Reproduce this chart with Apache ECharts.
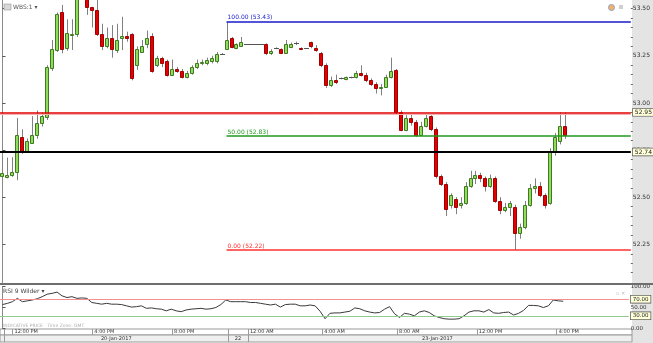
<!DOCTYPE html>
<html><head><meta charset="utf-8">
<script src="https://cdn.jsdelivr.net/npm/echarts@6/dist/echarts.min.js"></script>
<style>html,body{margin:0;padding:0;background:#fff}#c{width:653px;height:343px}</style>
</head><body><div id="c"></div>
<script>
// ---- data (15-minute candles, index 0..113) ----
const opens = [52.615,52.608,52.620,52.635,52.820,52.745,52.790,52.830,52.893,52.925,
53.185,53.280,53.485,53.290,53.366,53.366,53.570,53.560,53.507,53.493,
53.366,53.302,53.343,53.281,53.343,53.355,53.366,53.200,53.272,53.310,
53.355,53.200,53.240,53.220,53.150,53.180,53.170,53.140,53.160,53.190,
53.210,53.210,53.220,53.220,53.260,53.284,53.343,53.290,53.304,53.313,
53.313,53.313,53.313,53.310,53.263,53.290,53.285,53.263,53.295,53.316,
53.293,53.290,53.322,53.293,53.263,53.200,53.095,53.120,53.130,53.125,
53.135,53.135,53.160,53.150,53.120,53.100,53.080,53.085,53.140,53.175,
52.950,52.857,52.920,52.900,52.830,52.880,52.930,52.860,52.610,52.570,
52.460,52.490,52.460,52.470,52.560,52.600,52.620,52.600,52.560,52.600,
52.480,52.430,52.450,52.450,52.310,52.340,52.460,52.550,52.560,52.510,
52.470,52.740,52.800,52.880];
const closes = [52.630,52.620,52.633,52.830,52.745,52.800,52.830,52.893,52.930,53.190,
53.285,53.472,53.285,53.370,53.367,53.560,53.600,53.507,53.493,53.366,
53.302,53.343,53.285,53.334,53.355,53.343,53.130,53.285,53.302,53.343,
53.170,53.240,53.210,53.150,53.180,53.170,53.140,53.160,53.190,53.210,
53.215,53.230,53.240,53.260,53.260,53.334,53.295,53.310,53.322,53.313,
53.313,53.313,53.313,53.263,53.275,53.290,53.263,53.310,53.313,53.316,
53.285,53.290,53.302,53.281,53.200,53.095,53.120,53.110,53.130,53.135,
53.135,53.160,53.150,53.120,53.100,53.080,53.085,53.140,53.170,52.950,
52.857,52.920,52.900,52.830,52.880,52.920,52.860,52.610,52.570,52.440,
52.510,52.450,52.470,52.560,52.600,52.620,52.600,52.560,52.600,52.480,
52.430,52.450,52.470,52.310,52.340,52.460,52.550,52.560,52.510,52.460,
52.740,52.820,52.880,52.830];
const lows = [52.605,52.600,52.608,52.590,52.730,52.738,52.788,52.810,52.875,52.910,
53.170,53.270,53.263,53.277,53.281,53.350,53.550,53.467,53.400,53.355,
53.280,53.290,53.240,53.265,53.280,53.325,53.120,53.175,53.265,53.290,
53.160,53.190,53.190,53.140,53.145,53.160,53.130,53.130,53.150,53.180,
53.200,53.200,53.210,53.210,53.255,53.280,53.290,53.285,53.300,53.313,
53.313,53.313,53.313,53.254,53.254,53.285,53.260,53.260,53.290,53.307,
53.280,53.290,53.290,53.272,53.190,53.080,53.085,53.100,53.125,53.120,
53.130,53.130,53.140,53.110,53.090,53.050,53.040,53.080,53.130,52.940,
52.850,52.850,52.880,52.820,52.825,52.870,52.850,52.600,52.560,52.400,
52.440,52.410,52.440,52.460,52.550,52.570,52.580,52.530,52.550,52.470,
52.410,52.420,52.400,52.220,52.280,52.330,52.450,52.520,52.500,52.440,
52.460,52.720,52.780,52.810];
const highs = [52.715,52.710,52.712,52.920,52.860,52.812,52.930,52.960,52.950,53.200,
53.334,53.480,53.520,53.444,53.444,53.600,53.620,53.580,53.510,53.546,
53.420,53.400,53.413,53.420,53.457,53.378,53.370,53.300,53.334,53.384,
53.370,53.250,53.245,53.230,53.230,53.190,53.180,53.170,53.200,53.230,
53.230,53.240,53.250,53.270,53.265,53.430,53.350,53.316,53.350,53.313,
53.313,53.313,53.313,53.316,53.285,53.295,53.290,53.334,53.320,53.325,
53.295,53.290,53.325,53.307,53.270,53.210,53.140,53.150,53.135,53.140,
53.140,53.170,53.200,53.160,53.130,53.110,53.100,53.150,53.240,53.180,
52.960,52.935,52.940,52.910,52.900,52.940,52.935,52.870,52.620,52.580,
52.520,52.500,52.500,52.580,52.640,52.640,52.630,52.610,52.620,52.610,
52.500,52.470,52.480,52.460,52.360,52.480,52.570,52.600,52.580,52.520,
52.760,52.840,52.950,52.950];
const rsi = [57,60,64,72,64,66,68,71,76,82,84,87,78,74,76,72,73,72,62,60,
58,60,58,58,57,54,51,52,54,48,49,47,46,42,46,42,40,44,46,47,
48,46,47,50,57,68,64,64,64,64,62,62,60,58,56,58,51,57,58,58,
54,54,56,54,41,23,36,37,37,39,41,49,47,42,39,37,38,46,52,35,
26,36,34,30,39,42,38,30,26,23,22,22,23,30,39,42,42,39,45,37,
36,38,39,32,36,43,55,55,54,50,54,68,66,65];

const priceTicks = [52.25, 52.50, 52.75, 53.00, 53.25, 53.50];
const priceMinorTicks = [52.10,52.15,52.20,52.30,52.35,52.40,52.45,52.55,52.60,52.65,52.70,
  52.80,52.85,52.90,52.95,53.05,53.10,53.15,53.20,53.30,53.35,53.40,53.45,53.50];
const rsiTicks = [0, 50, 100];

const fibStartIndex = 45;
const fibLevels = [53.43, 52.825, 52.22];
const fibLabels = ['100.00 (53.43)', '50.00 (52.83)', '0.00 (52.22)'];
const fibColors = ['#1a1acc', '#1f9a1f', '#ff3030'];
const hLevels = [52.95, 52.74];
const hLabels = ['52.95', '52.74'];
const hColors = ['#e00000', '#000000'];

const timeTickPos = [2, 18, 34, 49.2, 64.1, 79.1, 95.1, 111.1];
const timeTickLabels = ['12:00 PM','4:00 PM','8:00 PM','12:00 AM','4:00 AM','8:00 AM','12:00 PM','4:00 PM'];
const timeSeparators = [0.4, 2, 18, 34, 45.2, 49.2, 64.1, 79.1, 95.1, 111.1];
const datePos = [22.8, 47.2, 87.2];
const dateLabels = ['20-Jan-2017', '22', '23-Jan-2017'];
const dateSeparators = [0.4, 45.2, 49.2];

const X_MIN = -0.5, X_MAX = 126.2;
const FONT = 'DejaVu Sans';

const candleData = opens.map((o, i) => [i, o, closes[i], lows[i], highs[i]]);

function renderCandle(params, api) {
  const i = api.value(0), o = api.value(1), c = api.value(2), l = api.value(3), h = api.value(4);
  const pO = api.coord([i, o]), pC = api.coord([i, c]), pL = api.coord([i, l]), pH = api.coord([i, h]);
  const col = Math.round(pO[0]);
  const wx = col + 0.5;
  const children = [];
  if (h !== l) children.push({type: 'line', shape: {x1: wx, y1: pH[1], x2: wx, y2: pL[1]},
    style: {stroke: '#808080', lineWidth: 1}});
  if (Math.abs(c - o) < 1e-9) {
    const yy = Math.round(pO[1]) + 0.5;
    children.push({type: 'line', shape: {x1: col - 2, y1: yy, x2: col + 3, y2: yy},
      style: {stroke: '#555', lineWidth: 1}});
  } else {
    const up = c > o;
    const top = Math.round(Math.min(pO[1], pC[1])) + 0.5;
    const bot = Math.round(Math.max(pO[1], pC[1])) + 0.5;
    children.push({type: 'rect', shape: {x: col - 1.5, y: top, width: 3, height: Math.max(1, bot - top)},
      style: {fill: up ? '#8fdc5a' : '#e20000', stroke: up ? '#3f7a22' : '#a00000', lineWidth: 1}});
  }
  return {type: 'group', children};
}

const markData = [];
fibLevels.forEach((v, k) => {
  markData.push([
    {coord: [fibStartIndex, v], lineStyle: {color: fibColors[k], width: 1.5, type: 'solid'},
     label: {show: true, position: 'insideStartTop', formatter: fibLabels[k], color: fibColors[k],
       fontSize: 6, fontFamily: FONT, distance: [1, 1]}},
    {coord: [X_MAX, v]}
  ]);
});
// light shadow under the red price line
markData.push({yAxis: 52.944, lineStyle: {color: '#f6b0b0', width: 1, type: 'solid'}, label: {show: false}});
hLevels.forEach((v, k) => {
  markData.push({yAxis: v, lineStyle: {color: hColors[k], width: k === 1 ? 2 : 1.5, type: 'solid'},
    label: {show: true, position: 'end', formatter: hLabels[k], color: '#222', fontSize: 6,
      fontFamily: FONT, backgroundColor: '#ffffd8', borderColor: '#555', borderWidth: 0.7,
      padding: [1, 2, 0, 2], distance: 2}});
});

const chart = echarts.init(document.getElementById('c'), null, {renderer: 'canvas'});
chart.setOption({
  animation: false,
  backgroundColor: '#ffffff',
  textStyle: {fontFamily: FONT},
  grid: [
    {left: -1.5, top: 0, width: 633.5, height: 283},
    {left: -1.5, top: 286.7, width: 633.5, height: 41.6},
    {left: -1.5, top: 329, width: 633.5, height: 6, show: true, backgroundColor: '#ffffff', borderColor: '#9a9a9a', borderWidth: 1},
    {left: -1.5, top: 335, width: 633.5, height: 7, show: true, backgroundColor: '#efefef', borderColor: '#9a9a9a', borderWidth: 1}
  ],
  graphic: [
    {type: 'rect', z: -10, shape: {x: 632, y: 0, width: 21, height: 343}, style: {fill: '#e4e4e4'}},
    {type: 'rect', z: 50, shape: {x: 0, y: 283, width: 653, height: 2}, style: {fill: '#6e6e6e'}},
    {type: 'rect', z: 50, shape: {x: 4, y: 4, width: 7, height: 6}, style: {fill: '#d8d8d8', stroke: '#999', lineWidth: 0.6}},
    {type: 'text', z: 50, x: 13, y: 4, style: {text: 'WBS:1 ▾', fontSize: 6, fontFamily: FONT, fill: '#555'}},
    {type: 'circle', z: 50, shape: {cx: 611.5, cy: 7.5, r: 3}, style: {fill: '#f3b26a', stroke: '#8aa0c8', lineWidth: 1}},
    {type: 'rect', z: 50, shape: {x: 619, y: 5, width: 4, height: 4}, style: {fill: '#d0d0d0'}},
    {type: 'text', z: 50, x: 3, y: 288, style: {text: 'RSI 9 Wilder ▾', fontSize: 6, fontFamily: FONT, fill: '#444'}},
    {type: 'text', z: 50, x: 616, y: 291, style: {text: '▫ ✕', fontSize: 5, fontFamily: FONT, fill: '#bbb'}},
    {type: 'text', z: 50, x: 3, y: 323.5, style: {text: 'INDICATIVE PRICE   Time Zone: GMT', fontSize: 4.5, fontFamily: FONT, fill: '#b0b0b0'}}
  ],
  xAxis: [
    {gridIndex: 0, type: 'value', min: X_MIN, max: X_MAX, show: false},
    {gridIndex: 1, type: 'value', min: X_MIN, max: X_MAX, show: false},
    {gridIndex: 2, type: 'value', min: X_MIN, max: X_MAX, splitLine: {show: false},
      axisLine: {show: false},
      axisTick: {show: true, inside: true, length: 6, customValues: timeSeparators, lineStyle: {color: '#9a9a9a'}},
      axisLabel: {show: true, inside: true, margin: 0.5, customValues: timeTickPos, align: 'left', verticalAlign: 'bottom',
        padding: [0, 0, 0, 2], fontSize: 5, color: '#333', fontFamily: FONT,
        formatter: v => { const k = timeTickPos.findIndex(p => Math.abs(p - v) < 1e-6); return k >= 0 ? timeTickLabels[k] : ''; }}},
    {gridIndex: 3, type: 'value', min: X_MIN, max: X_MAX, splitLine: {show: false},
      axisLine: {show: false},
      axisTick: {show: true, inside: true, length: 7, customValues: dateSeparators, lineStyle: {color: '#9a9a9a'}},
      axisLabel: {show: true, inside: true, margin: 0.5, customValues: datePos, align: 'center', verticalAlign: 'bottom',
        fontSize: 5, color: '#333', fontFamily: FONT,
        formatter: v => { const k = datePos.findIndex(p => Math.abs(p - v) < 1e-6); return k >= 0 ? dateLabels[k] : ''; }}}
  ],
  yAxis: [
    {gridIndex: 0, type: 'value', position: 'right', min: 52.045, max: 53.546, splitLine: {show: false},
      axisLine: {show: true, lineStyle: {color: '#8a8a8a'}},
      axisTick: {show: true, length: 3, customValues: priceTicks, lineStyle: {color: '#555'}},
      axisLabel: {show: true, customValues: priceTicks, margin: 2, fontSize: 6, color: '#333', fontFamily: FONT,
        formatter: v => v.toFixed(2)}},
    {gridIndex: 0, type: 'value', position: 'right', min: 52.045, max: 53.546, splitLine: {show: false},
      axisLine: {show: false},
      axisTick: {show: true, length: 2, customValues: priceMinorTicks, lineStyle: {color: '#666'}},
      axisLabel: {show: false}},
    {gridIndex: 1, type: 'value', position: 'right', min: 0, max: 100, splitLine: {show: false},
      axisLine: {show: true, lineStyle: {color: '#8a8a8a'}},
      axisTick: {show: true, length: 3, customValues: rsiTicks, lineStyle: {color: '#555'}},
      axisLabel: {show: true, customValues: rsiTicks, margin: 2, fontSize: 5.5, color: '#333', fontFamily: FONT,
        formatter: v => v.toFixed(2)}},
    {gridIndex: 2, type: 'value', show: false},
    {gridIndex: 3, type: 'value', show: false}
  ],
  series: [
    {type: 'custom', name: 'WBS:1', xAxisIndex: 0, yAxisIndex: 0, clip: true,
      renderItem: renderCandle, data: candleData, encode: {x: 0, y: [1, 2, 3, 4]},
      markLine: {silent: true, symbol: 'none', animation: false, data: markData}},
    {type: 'line', name: 'RSI 9 Wilder', xAxisIndex: 1, yAxisIndex: 2, showSymbol: false,
      data: rsi.map((v, i) => [i, v]), lineStyle: {color: '#3a3a3a', width: 1},
      markLine: {silent: true, symbol: 'none', animation: false, data: [
        {yAxis: 70, lineStyle: {color: '#f09090', width: 1, type: 'solid'},
          label: {show: true, position: 'end', formatter: '70.00', color: '#222', fontSize: 5.5, fontFamily: FONT,
            backgroundColor: '#ffffd8', borderColor: '#555', borderWidth: 0.7, padding: [1, 2, 0, 2], distance: 2}},
        {yAxis: 30, lineStyle: {color: '#8fcc8f', width: 1, type: 'solid'},
          label: {show: true, position: 'end', formatter: '30.00', color: '#222', fontSize: 5.5, fontFamily: FONT,
            backgroundColor: '#ffffd8', borderColor: '#555', borderWidth: 0.7, padding: [1, 2, 0, 2], distance: 2}}
      ]}}
  ]
});
</script></body></html>
